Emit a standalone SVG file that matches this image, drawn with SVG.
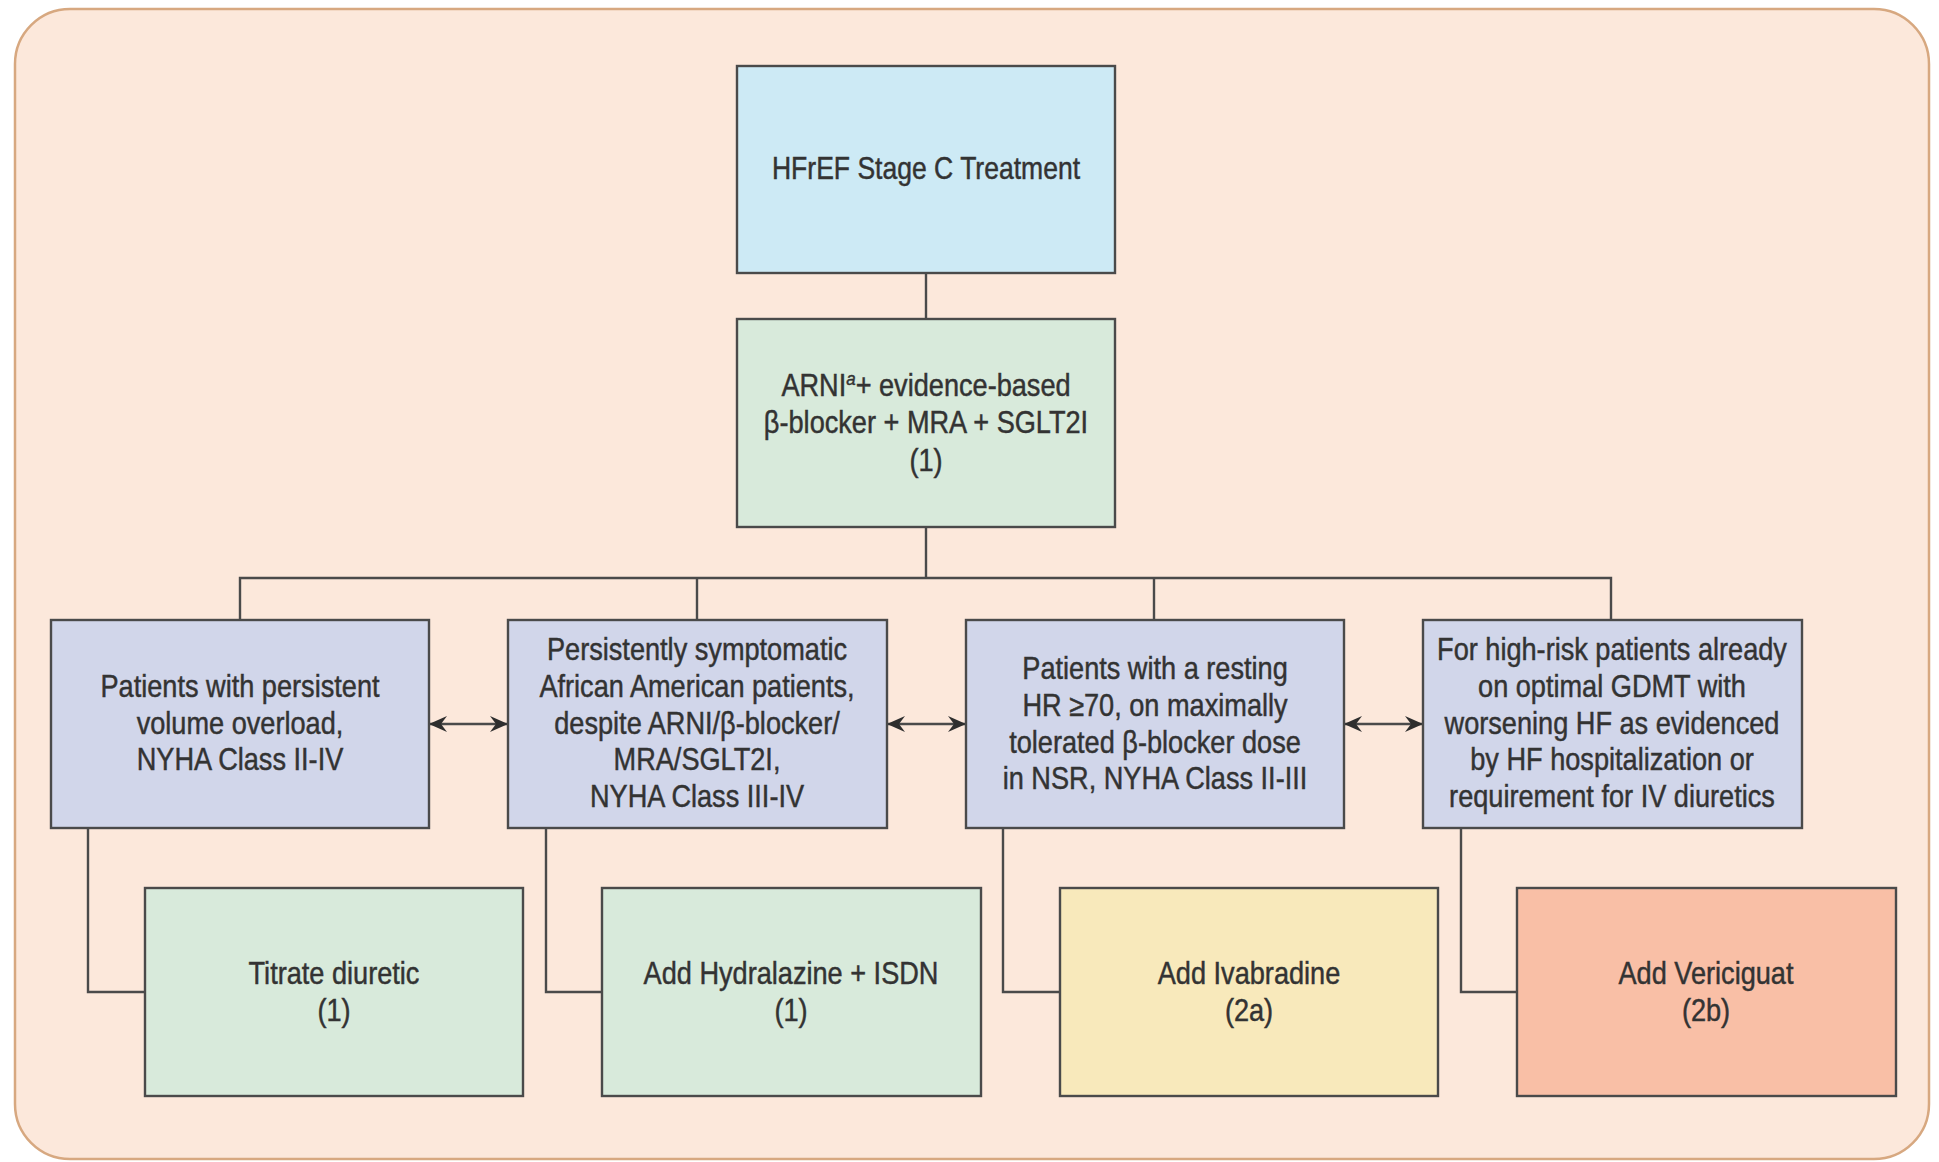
<svg xmlns="http://www.w3.org/2000/svg" width="1939" height="1162" viewBox="0 0 1939 1162">
  <style>
    .box { stroke: #4a4a4a; stroke-width: 2.4; }
    .blue { fill: #cdeaf5; }
    .green { fill: #d8eadb; }
    .lav { fill: #d1d6ea; }
    .yellow { fill: #f8e9bb; }
    .salmon { fill: #f9bfa6; }
    .lbl { font-family: "Liberation Sans", Arial, sans-serif; font-size: 30.5px; fill: #333333; stroke: #333333; stroke-width: 0.45; text-anchor: middle; }
    .wire { fill: none; stroke: #4a4a4a; stroke-width: 2.4; }
  </style>
  <defs>
    <marker id="ah" viewBox="0 0 18 16" refX="17" refY="8" markerWidth="18" markerHeight="16" markerUnits="userSpaceOnUse" orient="auto-start-reverse">
      <path d="M0,0 L18,8 L0,16 L6,8 Z" fill="#2e2e2e"/>
    </marker>
  </defs>

  <!-- panel -->
  <rect x="15" y="9" width="1914" height="1150" rx="55" ry="55" fill="#fce8db" stroke="#d7a880" stroke-width="2.5"/>

  <!-- connectors -->
  <g id="connectors">
    <line class="wire" x1="926" y1="273" x2="926" y2="319"/>
    <line class="wire" x1="926" y1="527" x2="926" y2="578"/>
    <polyline class="wire" points="240,620 240,578 1611,578 1611,620"/>
    <line class="wire" x1="697" y1="578" x2="697" y2="620"/>
    <line class="wire" x1="1154" y1="578" x2="1154" y2="620"/>
    <polyline class="wire" points="88,828 88,992 145,992"/>
    <polyline class="wire" points="546,828 546,992 602,992"/>
    <polyline class="wire" points="1003,828 1003,992 1060,992"/>
    <polyline class="wire" points="1461,828 1461,992 1517,992"/>
    <line class="wire" x1="430" y1="724" x2="507" y2="724" marker-start="url(#ah)" marker-end="url(#ah)"/>
    <line class="wire" x1="888" y1="724" x2="965" y2="724" marker-start="url(#ah)" marker-end="url(#ah)"/>
    <line class="wire" x1="1345" y1="724" x2="1422" y2="724" marker-start="url(#ah)" marker-end="url(#ah)"/>
  </g>

  <g id="stage-c">
    <rect class="box blue" x="737" y="66" width="378" height="207"/>
    <text class="lbl" transform="translate(926 179) scale(0.87 1)">HFrEF Stage C Treatment</text>
  </g>

  <g id="base-therapy">
    <rect class="box green" x="737" y="319" width="378" height="208"/>
    <text class="lbl" transform="translate(926 396) scale(0.89 1)">ARNI<tspan font-style="italic" font-size="19" dy="-11">a</tspan><tspan dy="11">+ evidence-based</tspan></text>
    <text class="lbl" transform="translate(926 433) scale(0.89 1)">β-blocker + MRA + SGLT2I</text>
    <text class="lbl" transform="translate(926 471) scale(0.89 1)">(1)</text>
  </g>

  <g id="volume-overload">
    <rect class="box lav" x="51" y="620" width="378" height="208"/>
    <text class="lbl" transform="translate(240 697) scale(0.89 1)">Patients with persistent</text>
    <text class="lbl" transform="translate(240 734) scale(0.89 1)">volume overload,</text>
    <text class="lbl" transform="translate(240 770) scale(0.89 1)">NYHA Class II-IV</text>
  </g>

  <g id="african-american">
    <rect class="box lav" x="508" y="620" width="379" height="208"/>
    <text class="lbl" transform="translate(697 660) scale(0.89 1)">Persistently symptomatic</text>
    <text class="lbl" transform="translate(697 697) scale(0.89 1)">African American patients,</text>
    <text class="lbl" transform="translate(697 734) scale(0.89 1)">despite ARNI/β-blocker/</text>
    <text class="lbl" transform="translate(697 770) scale(0.89 1)">MRA/SGLT2I,</text>
    <text class="lbl" transform="translate(697 807) scale(0.89 1)">NYHA Class III-IV</text>
  </g>

  <g id="resting-hr">
    <rect class="box lav" x="966" y="620" width="378" height="208"/>
    <text class="lbl" transform="translate(1155 679) scale(0.89 1)">Patients with a resting</text>
    <text class="lbl" transform="translate(1155 716) scale(0.89 1)">HR ≥70, on maximally</text>
    <text class="lbl" transform="translate(1155 753) scale(0.89 1)">tolerated β-blocker dose</text>
    <text class="lbl" transform="translate(1155 789) scale(0.89 1)">in NSR, NYHA Class II-III</text>
  </g>

  <g id="high-risk">
    <rect class="box lav" x="1423" y="620" width="379" height="208"/>
    <text class="lbl" transform="translate(1612 660) scale(0.89 1)">For high-risk patients already</text>
    <text class="lbl" transform="translate(1612 697) scale(0.89 1)">on optimal GDMT with</text>
    <text class="lbl" transform="translate(1612 734) scale(0.89 1)">worsening HF as evidenced</text>
    <text class="lbl" transform="translate(1612 770) scale(0.89 1)">by HF hospitalization or</text>
    <text class="lbl" transform="translate(1612 807) scale(0.89 1)">requirement for IV diuretics</text>
  </g>

  <g id="titrate-diuretic">
    <rect class="box green" x="145" y="888" width="378" height="208"/>
    <text class="lbl" transform="translate(334 984) scale(0.89 1)">Titrate diuretic</text>
    <text class="lbl" transform="translate(334 1021) scale(0.89 1)">(1)</text>
  </g>

  <g id="hydralazine-isdn">
    <rect class="box green" x="602" y="888" width="379" height="208"/>
    <text class="lbl" transform="translate(791 984) scale(0.89 1)">Add Hydralazine + ISDN</text>
    <text class="lbl" transform="translate(791 1021) scale(0.89 1)">(1)</text>
  </g>

  <g id="ivabradine">
    <rect class="box yellow" x="1060" y="888" width="378" height="208"/>
    <text class="lbl" transform="translate(1249 984) scale(0.89 1)">Add Ivabradine</text>
    <text class="lbl" transform="translate(1249 1021) scale(0.89 1)">(2a)</text>
  </g>

  <g id="vericiguat">
    <rect class="box salmon" x="1517" y="888" width="379" height="208"/>
    <text class="lbl" transform="translate(1706 984) scale(0.89 1)">Add Vericiguat</text>
    <text class="lbl" transform="translate(1706 1021) scale(0.89 1)">(2b)</text>
  </g>
</svg>
